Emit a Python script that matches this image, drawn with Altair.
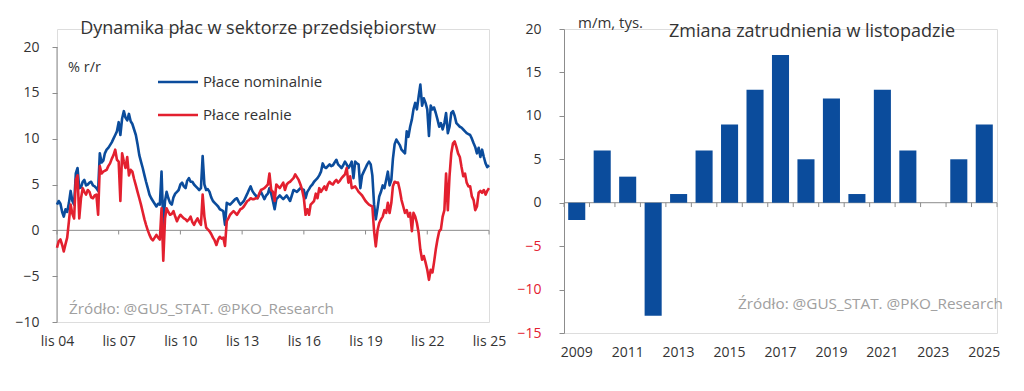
import altair as alt
import pandas as pd

# ---------------- data ----------------
# monthly, from lis 2004 (Nov 2004) to lis 2025 (Nov 2025)
nominal = [
    2.8, 3.2, 2.9, 2.0, 1.5, 2.3, 2.0, 3.0, 4.3, 3.2, 2.8, 6.2,
    6.8, 4.6, 4.7, 5.3, 5.5, 4.9, 5.0, 5.2, 5.3, 4.9, 4.8, 4.6,
    4.3, 8.4, 7.4, 7.6, 8.4, 8.8, 9.0, 9.3, 9.6, 10.0, 10.4, 10.8,
    11.8, 10.4, 12.2, 13.0, 12.3, 12.0, 12.7, 11.9, 11.6, 11.0, 10.4, 9.4,
    8.2, 7.5, 6.8, 6.0, 5.3, 4.6, 3.9, 3.5, 3.2, 2.9, 2.6, 2.9,
    2.8, 6.4, 0.6, 3.2, 4.2, 3.5, 3.0, 2.8, 3.6, 4.0, 4.2, 4.4,
    5.0, 5.2, 4.8, 4.6, 5.4, 5.7, 5.3, 5.3, 5.0, 4.8, 4.6, 4.4,
    4.6, 8.1, 5.0, 4.4, 4.5, 4.2, 3.6, 3.2, 3.0, 2.8, 2.6, 2.3,
    2.2, 2.1, 0.6, 3.0, 2.9, 2.8, 3.0, 3.2, 3.4, 3.5, 3.1, 2.8,
    3.0, 3.2, 3.6, 4.0, 4.4, 4.8, 4.3, 4.0, 3.8, 3.5, 3.9, 4.2,
    3.8, 3.4, 3.8, 4.0, 4.6, 4.0, 3.2, 2.3, 3.4, 3.6, 3.8, 3.6,
    3.4, 3.6, 3.8, 3.5, 3.2, 3.8, 4.4, 4.3, 4.2, 4.4, 4.6, 4.5,
    4.4, 3.5, 4.2, 4.5, 4.8, 5.0, 5.3, 5.5, 5.7, 6.0, 6.4, 7.3,
    6.9, 6.8, 7.0, 7.2, 7.0, 7.1, 7.4, 7.7, 7.2, 7.0, 6.8, 7.1,
    7.5, 7.2, 6.8, 7.1, 7.5, 5.7, 7.5, 7.3, 7.2, 4.6, 6.0, 6.4,
    6.8, 7.2, 7.5, 7.2, 6.0, 2.8, 1.2, 2.4, 3.7, 4.2, 4.9, 4.6,
    5.5, 6.4, 4.9, 5.5, 7.8, 9.4, 9.9, 9.6, 9.3, 8.8, 8.6, 8.4,
    10.8, 10.2, 11.3, 12.1, 13.2, 13.9, 13.2, 14.6, 15.9, 13.6, 14.4, 13.9,
    13.2, 10.3, 13.6, 13.2, 13.4, 12.8, 12.1, 11.3, 11.7, 11.0, 11.7, 12.8,
    10.6, 11.3, 12.8, 13.0, 12.5, 11.7, 11.5, 11.3, 11.2, 11.0, 10.8, 10.6,
    10.5, 10.4, 10.0, 9.5, 9.1, 8.4, 9.0, 8.0, 8.8, 8.0, 7.3, 6.9,
    7.1,
]
real = [
    -1.9, -1.2, -1.0, -1.6, -2.3, -1.5, -0.8, 1.0, 2.8, 1.8, 1.3, 5.5,
    6.0, 1.3, 3.5, 4.6, 4.2, 3.9, 4.4, 4.2, 3.6, 3.5, 3.8, 3.9,
    1.7, 7.0, 6.2, 6.4, 6.5, 6.6, 7.0, 7.3, 7.8, 8.2, 8.8, 7.7,
    7.5, 3.2, 8.4, 7.5, 6.8, 8.0, 6.0, 6.6, 6.4, 5.6, 4.9, 4.2,
    3.5, 2.8, 2.0, 1.2, 0.6, 0.0, -0.5, -0.9, -1.1, -0.8, -0.5, -0.8,
    -1.0, 2.4, -3.3, 1.3, 2.4, 2.0, 1.7, 1.8, 2.1, 1.5, 1.0, 1.4,
    1.7, 1.5, 1.3, 1.2, 1.0, 1.2, 1.5, 0.9, 0.6, 1.0, 1.3, 0.9,
    0.6, 3.9, 1.5, 0.3, 0.1, -0.1, -0.4, -0.8, -1.1, -1.6, -1.0, -0.7,
    -0.9, -0.8, -1.7, 1.0, 1.3, 1.7, 1.9, 2.1, 1.9, 1.7, 2.0, 2.3,
    2.4, 2.6, 2.9, 3.2, 3.3, 3.5, 3.4, 3.4, 3.5, 3.5, 4.0, 4.4,
    4.5, 4.6, 4.8, 5.0, 6.2, 4.4, 4.2, 3.2, 5.0, 4.8, 4.6, 4.9,
    5.2, 4.4, 5.0, 5.2, 5.3, 5.5, 5.7, 6.1, 5.8, 5.5, 5.0, 4.4,
    3.5, 1.7, 2.3, 1.7, 2.8, 3.0, 3.2, 4.0, 3.5, 4.6, 4.2, 4.5,
    4.8, 4.4, 5.0, 5.3, 5.1, 5.0, 5.3, 5.5, 5.2, 5.4, 5.7, 5.9,
    6.1, 6.8, 5.2, 5.9, 4.6, 4.7, 4.8, 4.5, 4.2, 4.0, 3.8, 3.5,
    3.2, 3.0, 2.8, 2.7, 2.6, -0.1, -1.75, 0.0, 0.8, 1.2, 1.5, 2.2,
    1.9, 3.0, 1.9, 3.0, 4.8, 5.3, 5.2, 5.2, 4.4, 3.3, 2.6, 1.9,
    2.2, 1.5, 1.9, -0.1, 1.9, 1.5, 0.8, -0.3, -2.1, -3.2, -2.8, -3.5,
    -4.3, -5.4, -4.3, -4.6, -3.5, -2.1, -1.0, -0.1, 0.1, 1.5, 2.2, 6.2,
    2.2, 5.9, 8.4, 9.5, 9.7, 9.1, 8.4, 8.0, 6.9, 5.9, 6.2, 5.2,
    4.8, 4.8, 3.7, 3.3, 2.2, 2.6, 4.1, 4.3, 4.1, 4.4, 3.9, 4.3,
    4.6,
]
tick_years_left = [2004, 2007, 2010, 2013, 2016, 2019, 2022, 2025]
y_ticks_left = [-10, -5, 0, 5, 10, 15, 20]

years = list(range(2009, 2026))
emp_change = [-2, 6, 3, -13, 1, 6, 9, 13, 17, 5, 12, 1, 13, 6, 0, 5, 9]
y_ticks_right = [-15, -10, -5, 0, 5, 10, 15, 20]

series_names = ["Płace nominalnie", "Płace realnie"]
left_title = "Dynamika płac w sektorze przedsiębiorstw"
right_title = "Zmiana zatrudnienia w listopadzie"
source = "Źródło: @GUS_STAT. @PKO_Research"

# ---------------- styles ----------------
BLUE = "#0b4c9c"
RED = "#e3202f"
AXIS = "#8c8c8c"
TXT = "#333333"
GRID = "#f1f1f1"
FONT = "Open Sans"

TOP = 28                     # common top of both plot areas (page px)
L_X0, R_X0 = 56, 561
LW, LH = 432, 293            # left plot spans y 28..321, value 20 sits at y 46
RW, RH = 433, 304
L_EXTRA = 18 / (275 / 30)    # value headroom above 20 in the left panel

dates = pd.date_range("2004-11-01", periods=len(nominal), freq="MS").strftime("%Y-%m-%dT00:00:00").tolist()
lines_df = pd.concat([
    pd.DataFrame({"date": dates, "value": nominal, "series": series_names[0]}),
    pd.DataFrame({"date": dates, "value": real, "series": series_names[1]}),
])
ticks_df = pd.DataFrame({"date": [f"{y}-11-01T00:00:00" for y in tick_years_left]})
one = pd.DataFrame({"a": [0]})

x_left = alt.X(
    "date:T",
    scale=alt.Scale(domain=[alt.DateTime(year=2004, month=11, date=1),
                            alt.DateTime(year=2025, month=11, date=1)]),
    axis=alt.Axis(
        values=[alt.DateTime(year=y, month=11, date=1) for y in tick_years_left],
        labelExpr="'lis ' + timeFormat(datum.value, '%y')",
        domain=False, ticks=False, tickSize=0, grid=False, title=None,
        labelFlush=False, labelOverlap=False,
        labelPadding=12, labelFontSize=14, labelColor=TXT, labelFont=FONT,
    ),
)
y_left = alt.Y(
    "value:Q",
    scale=alt.Scale(domain=[-10, 20 + L_EXTRA], nice=False, zero=False),
    axis=alt.Axis(
        values=y_ticks_left, title=None,
        domain=False, tickColor=AXIS, tickSize=5, labelPadding=13,
        gridColor=GRID, labelFontSize=14, labelColor=TXT, labelFont=FONT,
    ),
)

left_lines = alt.Chart(lines_df).mark_line(strokeWidth=2.6, strokeJoin="round").encode(
    x=x_left, y=y_left,
    color=alt.Color("series:N", scale=alt.Scale(domain=series_names, range=[BLUE, RED]), legend=None),
)
left_zero = alt.Chart(one).mark_rule(color=AXIS, strokeWidth=1).encode(y=alt.datum(0))
left_yaxis = alt.Chart(one).mark_rule(color=AXIS, strokeWidth=1).encode(
    x=alt.value(0), y=alt.datum(y_ticks_left[0]), y2=alt.datum(y_ticks_left[-1])
)
left_ticks = alt.Chart(ticks_df).mark_rule(color=AXIS, strokeWidth=1).encode(
    x=x_left, y=alt.datum(0), y2=alt.datum(-0.45)
)


def txt(s, x, y, size, color=TXT, align="left", baseline="middle", opacity=1):
    return alt.Chart(one).mark_text(
        text=s, align=align, baseline=baseline, fontSize=size, color=color,
        font=FONT, opacity=opacity,
    ).encode(x=alt.value(x), y=alt.value(y))


def leg_line(x1, x2, y, color):
    return alt.Chart(one).mark_rule(color=color, strokeWidth=2.6).encode(
        x=alt.value(x1), x2=alt.value(x2), y=alt.value(y)
    )


left = alt.layer(
    left_zero,
    left_yaxis,
    left_ticks,
    left_lines,
    leg_line(101, 141, 53, BLUE),
    leg_line(101, 141, 86, RED),
    txt(series_names[0], 146, 53, 15),
    txt(series_names[1], 146, 86, 15),
    txt(left_title, 201, 0, 18, align="center"),
    txt("% r/r", 11, 39, 14.5),
    txt(source, 12, 280, 15.3, color="#a0a0a0"),
    txt(".", 8 - L_X0, 8 - TOP, 10, align="left", baseline="top", opacity=0),
    txt(".", 512 - L_X0, 8 - TOP, 10, align="right", baseline="top", opacity=0),
).properties(width=LW, height=LH)

# ---------------- right panel ----------------
bars_df = pd.DataFrame({"year": years, "value": emp_change})
rticks_df = pd.DataFrame({"year": years})

y_right = alt.Y(
    "value:Q",
    scale=alt.Scale(domain=[y_ticks_right[0], y_ticks_right[-1]], nice=False, zero=False),
    axis=alt.Axis(
        values=y_ticks_right, title=None,
        domainColor=AXIS, tickColor=AXIS, tickSize=5, labelPadding=18,
        gridColor=GRID, labelFontSize=14, labelFont=FONT,
        labelColor={"condition": {"test": "datum.value < 0", "value": RED}, "value": TXT},
    ),
)

bars = alt.Chart(bars_df).mark_bar(color=BLUE).encode(
    x=alt.X(
        "year:O",
        scale=alt.Scale(paddingInner=0.33, paddingOuter=0.165),
        axis=alt.Axis(
            labelExpr="datum.value % 2 == 1 ? datum.label : ''",
            labelAngle=0, domain=False, ticks=False, tickSize=0, grid=False, title=None,
            labelPadding=12, labelFontSize=14, labelColor=TXT, labelFont=FONT,
        ),
    ),
    y=y_right,
)
right_zero = alt.Chart(one).mark_rule(color=AXIS, strokeWidth=1).encode(y=alt.datum(0))
rt_start = alt.Chart(rticks_df).mark_rule(color=AXIS, strokeWidth=1).encode(
    x=alt.X("year:O", scale=alt.Scale(paddingInner=0, paddingOuter=0), axis=None, bandPosition=0),
    y=alt.datum(0), y2=alt.datum(-0.5),
)
rt_end = alt.Chart(one).mark_rule(color=AXIS, strokeWidth=1).encode(
    x=alt.value(RW), y=alt.datum(0), y2=alt.datum(-0.5),
)

right_bars = alt.layer(right_zero, bars, rt_end)

right = alt.layer(
    right_bars,
    rt_start,
    txt(right_title, 248, 3, 18, align="center"),
    txt("m/m, tys.", 14, -6, 15),
    txt(source, 174, 275, 15.3, color="#a0a0a0"),
    txt(".", 512 - R_X0, 8 - TOP, 10, align="left", baseline="top", opacity=0),
).resolve_scale(x="independent").properties(width=RW, height=RH)

chart = alt.hconcat(left, right, spacing=0).properties(padding=0).configure_view(
    stroke=None
).configure(font=FONT)

chart.save("out.html", embed_options={"renderer": "svg", "actions": False})
